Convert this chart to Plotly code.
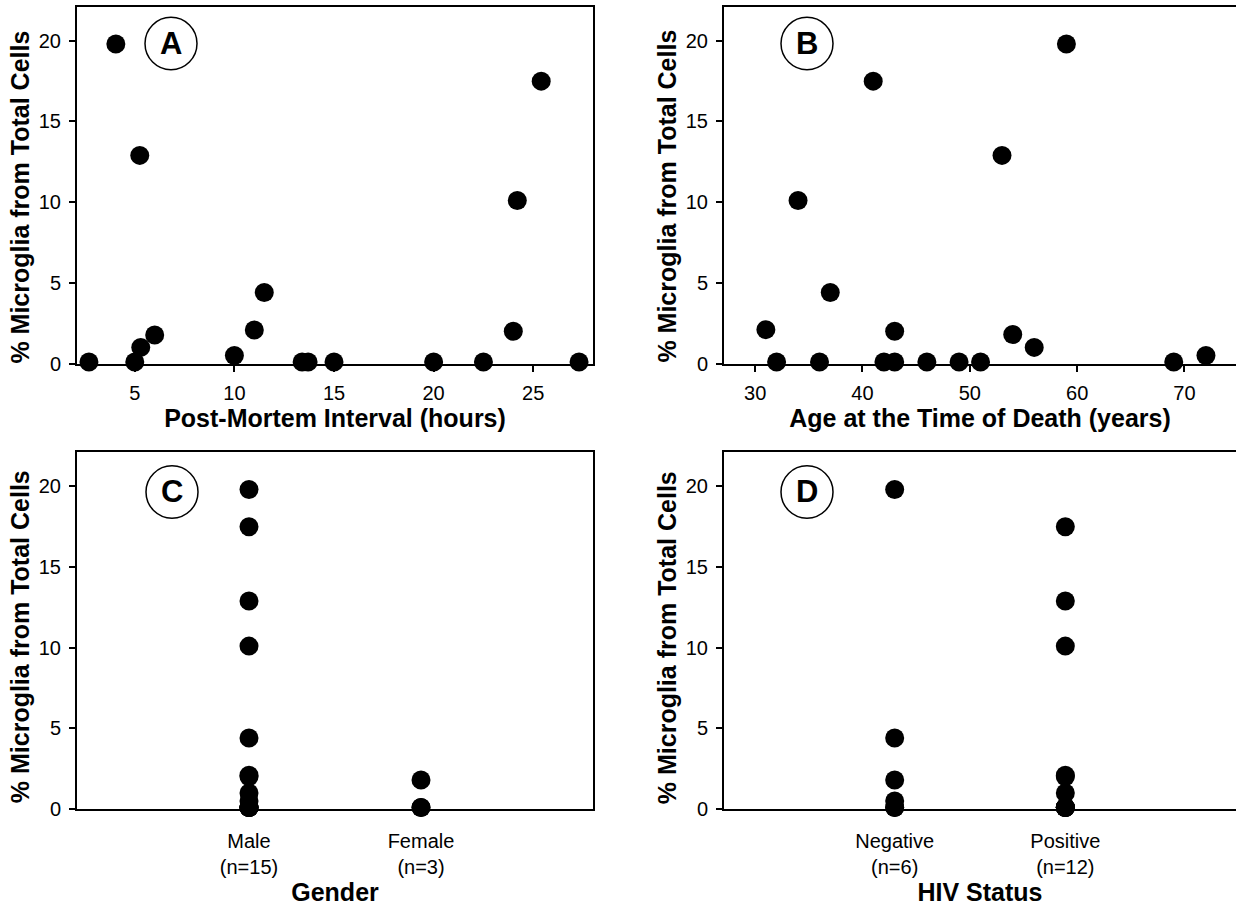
import plotly.graph_objects as go

# ---------------- data ----------------
pmi_hours = [2.7, 4.05, 5.25, 5.0, 5.3, 6.0, 10.0, 11.0, 11.5, 13.4, 13.7, 15.0, 20.0, 22.5, 24.0, 24.2, 25.4, 27.3]
pmi_microglia = [0.1, 19.8, 12.9, 0.1, 1.0, 1.77, 0.5, 2.08, 4.4, 0.1, 0.1, 0.1, 0.1, 0.1, 2.0, 10.1, 17.5, 0.1]

age_years = [31, 32, 34, 36, 37, 41, 42, 43, 43, 46, 49, 51, 53, 54, 56, 59, 69, 72]
age_microglia = [2.1, 0.1, 10.1, 0.1, 4.4, 17.5, 0.1, 0.1, 2.0, 0.1, 0.1, 0.1, 12.9, 1.8, 1.0, 19.8, 0.1, 0.5]

gender_categories = ["Male", "Female"]
gender_ticktext = ["Male<br>(n=15)", "Female<br>(n=3)"]
male_microglia = [19.8, 17.5, 12.9, 10.1, 4.4, 2.1, 2.0, 1.0, 0.5, 0.1, 0.1, 0.1, 0.1, 0.1, 0.1]
female_microglia = [1.8, 0.1, 0.1]

hiv_categories = ["Negative", "Positive"]
hiv_ticktext = ["Negative<br>(n=6)", "Positive<br>(n=12)"]
negative_microglia = [19.8, 4.4, 1.8, 0.5, 0.1, 0.1]
positive_microglia = [17.5, 12.9, 10.1, 2.1, 2.0, 1.0, 0.1, 0.1, 0.1, 0.1, 0.1, 0.1]

y_ticks = [0, 5, 10, 15, 20]
pmi_ticks = [5, 10, 15, 20, 25]
age_ticks = [30, 40, 50, 60, 70]
panel_letters = ["A", "B", "C", "D"]
y_title = "% Microglia from Total Cells"

# ---------------- layout helpers ----------------
W, H = 1236, 909
def px_x(x):
    return x / W
def px_y(y):
    return 1 - y / H

FONT = "Liberation Sans, Arial, sans-serif"
TICK_SIZE = 20
TITLE_SIZE = 25
marker = dict(color="black", size=19, line=dict(width=0))

fig = go.Figure()

fig.add_trace(go.Scatter(x=pmi_hours, y=pmi_microglia, mode="markers", marker=marker,
                         xaxis="x", yaxis="y", cliponaxis=False, showlegend=False))
fig.add_trace(go.Scatter(x=age_years, y=age_microglia, mode="markers", marker=marker,
                         xaxis="x2", yaxis="y2", cliponaxis=False, showlegend=False))
fig.add_trace(go.Scatter(x=[gender_categories[0]] * len(male_microglia) + [gender_categories[1]] * len(female_microglia),
                         y=male_microglia + female_microglia, mode="markers", marker=marker,
                         xaxis="x3", yaxis="y3", cliponaxis=False, showlegend=False))
fig.add_trace(go.Scatter(x=[hiv_categories[0]] * len(negative_microglia) + [hiv_categories[1]] * len(positive_microglia),
                         y=negative_microglia + positive_microglia, mode="markers", marker=marker,
                         xaxis="x4", yaxis="y4", cliponaxis=False, showlegend=False))

top_y = [px_y(368), px_y(7)]
bot_y = [px_y(819), px_y(458)]
left_x = [px_x(77), px_x(593)]
right_x = [px_x(724), 1.0]

def yaxis_common(domain, anchor, mirror):
    return dict(domain=domain, anchor=anchor, range=[0, 22.1], tickvals=y_ticks,
                ticks="outside", ticklen=6, tickwidth=1.5, tickcolor="black",
                ticklabelstandoff=4,
                showline=True, linecolor="black", linewidth=2, mirror=mirror,
                showgrid=False, zeroline=False,
                tickfont=dict(family=FONT, size=TICK_SIZE, color="black"))

def xaxis_num(domain, anchor, rng, ticks, title):
    return dict(domain=domain, anchor=anchor, range=rng, tickvals=ticks,
                ticks="outside", ticklen=6, tickwidth=1.5, tickcolor="black",
                ticklabelstandoff=4,
                showline=True, linecolor="black", linewidth=2, mirror=True,
                showgrid=False, zeroline=False,
                tickfont=dict(family=FONT, size=TICK_SIZE, color="black"),
                title=dict(text=title, standoff=2,
                           font=dict(family=FONT, size=TITLE_SIZE, color="black", weight="bold")))

def xaxis_cat(domain, anchor, cats, labels, title, standoff):
    return dict(domain=domain, anchor=anchor, type="category", categoryorder="array",
                categoryarray=cats, tickvals=cats, ticktext=labels, range=[-1, 2],
                ticks="", ticklabelstandoff=13,
                showline=True, linecolor="black", linewidth=2, mirror=True,
                showgrid=False, zeroline=False,
                tickfont=dict(family=FONT, size=TICK_SIZE, color="black"),
                title=dict(text=title, standoff=standoff,
                           font=dict(family=FONT, size=TITLE_SIZE, color="black", weight="bold")))

fig.update_layout(
    width=W, height=H,
    margin=dict(l=0, r=0, t=0, b=0),
    paper_bgcolor="white", plot_bgcolor="white",
    font=dict(family=FONT, color="black"),
    xaxis=xaxis_num(left_x, "y", [2.1, 28.0], pmi_ticks, "Post-Mortem Interval (hours)"),
    yaxis=yaxis_common(top_y, "x", True),
    xaxis2=xaxis_num(right_x, "y2", [27.1, 74.8], age_ticks, "Age at the Time of Death (years)"),
    yaxis2=yaxis_common(top_y, "x2", False),
    xaxis3=xaxis_cat(left_x, "y3", gender_categories, gender_ticktext, "Gender", 6),
    yaxis3=yaxis_common(bot_y, "x3", True),
    xaxis4=xaxis_cat(right_x, "y4", hiv_categories, hiv_ticktext, "HIV Status", 0),
    yaxis4=yaxis_common(bot_y, "x4", False),
)

# y-axis titles (rotated text)
y_title_pos = [(20, 200), (667, 198), (20, 645), (667, 645)]
for (tx, ty) in y_title_pos:
    fig.add_annotation(text=y_title, xref="paper", yref="paper", x=px_x(tx), y=px_y(ty),
                       xanchor="center", yanchor="middle", showarrow=False, textangle=-90,
                       font=dict(family=FONT, size=TITLE_SIZE, color="black", weight="bold"))

# panel letters in circles
centers = [(171, 44), (807, 44), (172, 498), (807, 498)]
for letter, (cx, cy) in zip(panel_letters, centers):
    fig.add_shape(type="circle", xref="paper", yref="paper",
                  x0=px_x(cx - 26), x1=px_x(cx + 26), y0=px_y(cy + 26.5), y1=px_y(cy - 26.5),
                  line=dict(color="black", width=1.5), fillcolor="white", layer="below")
    fig.add_annotation(text=letter, xref="paper", yref="paper", x=px_x(cx), y=px_y(cy),
                       xanchor="center", yanchor="middle", showarrow=False,
                       font=dict(family=FONT, size=31, color="black", weight="bold"))

fig.write_html("out.html", config={"displayModeBar": False},
               post_script="document.body.style.margin='0';document.body.style.overflow='hidden';")
